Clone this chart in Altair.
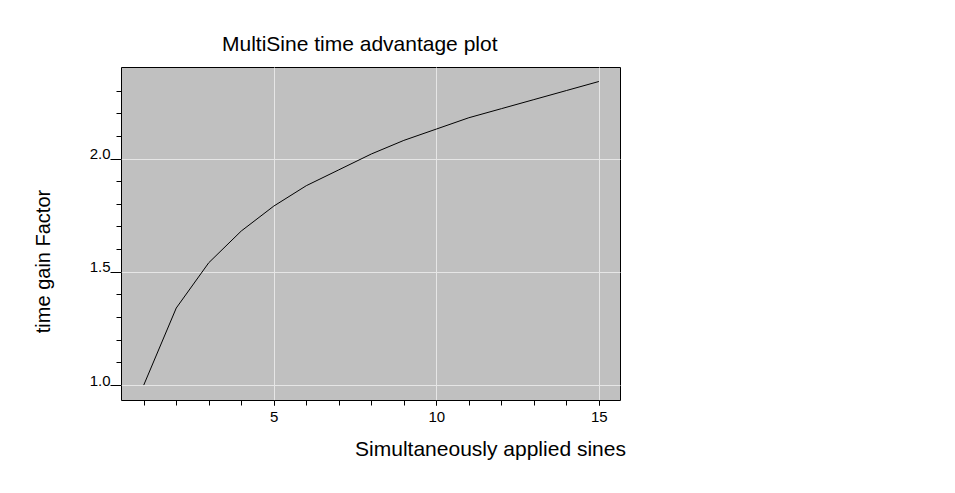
"""MultiSine time advantage plot, redrawn with Altair."""

import altair as alt
import pandas as pd

# values
sines = [1, 2, 3, 4, 5, 6, 7, 8, 9, 10, 11, 12, 13, 14, 15]
gain = [1.00, 1.34, 1.54, 1.68, 1.79, 1.88, 1.95, 2.02, 2.08, 2.13, 2.18, 2.22, 2.26, 2.30, 2.34]

x_major = [5, 10, 15]
x_minor = list(range(1, 16))
y_major = [1.0, 1.5, 2.0]
y_minor = [1.1, 1.2, 1.3, 1.4, 1.6, 1.7, 1.8, 1.9, 2.1, 2.2, 2.3]

FONT = "Liberation Sans"
GRID = "#e6e6e6"

df = pd.DataFrame({"sines": sines, "gain": gain})

x_scale = alt.Scale(domain=[0.3, 15.65], nice=False, zero=False)
y_scale = alt.Scale(domain=[0.934, 2.404], nice=False, zero=False)

line = (
    alt.Chart(df)
    .mark_line(color="black", strokeWidth=1)
    .encode(
        x=alt.X(
            "sines:Q",
            scale=x_scale,
            axis=alt.Axis(
                orient="bottom",
                values=x_major,
                grid=True,
                gridColor=GRID,
                gridOpacity=1,
                domain=False,
                tickSize=5,
                tickColor="black",
                labelPadding=4,
                labelFontSize=15,
                labelFont=FONT,
                labelColor="black",
                title="Simultaneously applied sines",
                titleFont=FONT,
                titleFontSize=21,
                titleFontWeight="normal",
                titleColor="black",
                titleX=369,
                titleY=55,
                titleAlign="center",
                titleBaseline="alphabetic",
            ),
        ),
        y=alt.Y(
            "gain:Q",
            scale=y_scale,
            axis=alt.Axis(
                orient="left",
                values=y_major,
                format=".1f",
                grid=True,
                gridColor=GRID,
                gridOpacity=1,
                domain=False,
                tickSize=11,
                tickColor="black",
                labelPadding=0,
                labelBaseline="alphabetic",
                labelFontSize=15,
                labelFont=FONT,
                labelColor="black",
                title="time gain Factor",
                titleFont=FONT,
                titleFontSize=20,
                titleFontWeight="normal",
                titleColor="black",
                titleAngle=270,
                titleX=-72,
                titleY=194,
                titleAlign="center",
                titleBaseline="alphabetic",
            ),
        ),
    )
)

# invisible copy that only carries the minor tick axes
minor = (
    alt.Chart(df)
    .mark_line(opacity=0)
    .encode(
        x=alt.X(
            "sines:Q",
            scale=x_scale,
            axis=alt.Axis(
                orient="bottom", values=x_minor, labels=False, grid=False,
                domain=False, tickSize=5, tickColor="black", title=None,
            ),
        ),
        y=alt.Y(
            "gain:Q",
            scale=y_scale,
            axis=alt.Axis(
                orient="left", values=y_minor, labels=False, grid=False,
                domain=False, tickSize=5, tickColor="black", title=None,
            ),
        ),
    )
)

chart = (
    alt.layer(line, minor)
    .resolve_axis(x="independent", y="independent")
    .properties(
        width=499,
        height=333,
        background="white",
        autosize=alt.AutoSizeParams(type="none"),
        padding={"left": 113, "top": 59, "right": 300, "bottom": 70},
        title=alt.TitleParams(
            "MultiSine time advantage plot",
            font=FONT,
            fontSize=21,
            fontWeight="normal",
            color="black",
            anchor="start",
            frame="group",
            dx=101,
            dy=21,
            offset=16,
            baseline="alphabetic",
        ),
    )
    .configure_view(fill="#c0c0c0", stroke="black", strokeWidth=1)
)

chart.save("out.html", embed_options={"renderer": "svg", "actions": False})
